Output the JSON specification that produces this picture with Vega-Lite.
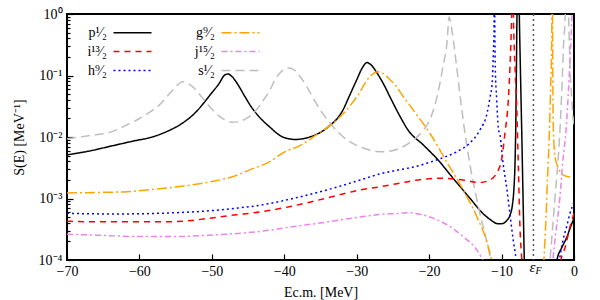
{
  "$schema": "https://vega.github.io/schema/vega-lite/v6.json",
  "width": 507,
  "height": 246,
  "autosize": "none",
  "padding": {"left": 67, "top": 14, "right": 26, "bottom": 40},
  "config": {
    "font": "Liberation Serif",
    "view": {"stroke": "black", "strokeWidth": 2},
    "axis": {"domain": false, "grid": false, "labelFont": "Liberation Serif", "titleFont": "Liberation Serif", "labelFontSize": 14, "titleFontSize": 14, "titleFontWeight": "normal", "labelColor": "black", "titleColor": "black", "tickColor": "black", "tickWidth": 1.2},
    "legend": {"labelFont": "Liberation Serif", "labelFontSize": 14, "labelColor": "black"}
  },
  "resolve": {"axis": {"x": "independent", "y": "independent"}},
  "layer": [
    {
      "data": {"values": [
        {"w":"p","s":"p1","x":-70,"y":0.00513},{"w":"p","s":"p1","x":-67,"y":0.00589},{"w":"p","s":"p1","x":-64,"y":0.00708},{"w":"p","s":"p1","x":-61,"y":0.00851},{"w":"p","s":"p1","x":-58,"y":0.0102},{"w":"p","s":"p1","x":-56,"y":0.0126},{"w":"p","s":"p1","x":-54,"y":0.017},{"w":"p","s":"p1","x":-52,"y":0.0269},{"w":"p","s":"p1","x":-51,"y":0.0372},{"w":"p","s":"p1","x":-50,"y":0.0525},{"w":"p","s":"p1","x":-49,"y":0.0741},{"w":"p","s":"p1","x":-48.3,"y":0.1},{"w":"p","s":"p1","x":-47.8,"y":0.106},{"w":"p","s":"p1","x":-47.2,"y":0.0955},{"w":"p","s":"p1","x":-46.5,"y":0.0741},{"w":"p","s":"p1","x":-45.5,"y":0.0468},{"w":"p","s":"p1","x":-44.5,"y":0.0302},{"w":"p","s":"p1","x":-43.4,"y":0.0209},{"w":"p","s":"p1","x":-42,"y":0.0145},{"w":"p","s":"p1","x":-40.2,"y":0.01},{"w":"p","s":"p1","x":-38.5,"y":0.00912},{"w":"p","s":"p1","x":-36.5,"y":0.01},{"w":"p","s":"p1","x":-34.1,"y":0.0141},{"w":"p","s":"p1","x":-31.9,"y":0.0275},{"w":"p","s":"p1","x":-31,"y":0.0468},{"w":"p","s":"p1","x":-30,"y":0.0851},{"w":"p","s":"p1","x":-29.2,"y":0.135},{"w":"p","s":"p1","x":-28.6,"y":0.162},{"w":"p","s":"p1","x":-28,"y":0.148},{"w":"p","s":"p1","x":-27.2,"y":0.11},{"w":"p","s":"p1","x":-26.2,"y":0.0692},{"w":"p","s":"p1","x":-25.4,"y":0.0447},{"w":"p","s":"p1","x":-24,"y":0.0214},{"w":"p","s":"p1","x":-22.9,"y":0.0129},{"w":"p","s":"p1","x":-20.8,"y":0.00741},{"w":"p","s":"p1","x":-18.8,"y":0.00427},{"w":"p","s":"p1","x":-16.7,"y":0.00214},{"w":"p","s":"p1","x":-14.4,"y":0.00102},{"w":"p","s":"p1","x":-12.6,"y":0.000575},{"w":"p","s":"p1","x":-11.6,"y":0.000457},{"w":"p","s":"p1","x":-10.5,"y":0.000389},{"w":"p","s":"p1","x":-10,"y":0.000389},{"w":"p","s":"p1","x":-9.3,"y":0.000437},{"w":"p","s":"p1","x":-8.8,"y":0.00055},{"w":"p","s":"p1","x":-8.5,"y":0.000794},{"w":"p","s":"p1","x":-8.3,"y":0.00141},{"w":"p","s":"p1","x":-8.15,"y":0.00355},{"w":"p","s":"p1","x":-8.05,"y":0.0126},{"w":"p","s":"p1","x":-7.95,"y":0.126},{"w":"p","s":"p1","x":-7.87,"y":1},{"w":"p","s":"p1","x":-7.8,"y":2.5},{"w":"p","s":"p1","x":-7.6,"y":2.5},{"w":"p","s":"p1","x":-7.55,"y":1},{"w":"p","s":"p1","x":-7.4,"y":0.126},{"w":"p","s":"p1","x":-7.2,"y":0.01},{"w":"p","s":"p1","x":-7,"y":0.00063},{"w":"p","s":"p1","x":-6.86,"y":0.0001},{"w":"p","s":"p1","x":-6.75,"y":0.0000316},
        {"w":"p","s":"p2","x":-2.6,"y":0.000063},{"w":"p","s":"p2","x":-2.35,"y":0.0001},{"w":"p","s":"p2","x":-1.7,"y":0.000158},{"w":"p","s":"p2","x":-1,"y":0.000234},{"w":"p","s":"p2","x":-0.5,"y":0.000339},{"w":"p","s":"p2","x":0,"y":0.000479},
        {"w":"s","s":"s1","x":-70,"y":0.00933},{"w":"s","s":"s1","x":-67,"y":0.0105},{"w":"s","s":"s1","x":-64,"y":0.012},{"w":"s","s":"s1","x":-61.7,"y":0.0158},{"w":"s","s":"s1","x":-60,"y":0.02},{"w":"s","s":"s1","x":-58.5,"y":0.0257},{"w":"s","s":"s1","x":-57,"y":0.0355},{"w":"s","s":"s1","x":-55.8,"y":0.0513},{"w":"s","s":"s1","x":-54.8,"y":0.0692},{"w":"s","s":"s1","x":-54.1,"y":0.0794},{"w":"s","s":"s1","x":-53.3,"y":0.0741},{"w":"s","s":"s1","x":-52.6,"y":0.0646},{"w":"s","s":"s1","x":-51.6,"y":0.0479},{"w":"s","s":"s1","x":-50.7,"y":0.0355},{"w":"s","s":"s1","x":-49.8,"y":0.0269},{"w":"s","s":"s1","x":-48.9,"y":0.0214},{"w":"s","s":"s1","x":-47.2,"y":0.0174},{"w":"s","s":"s1","x":-46,"y":0.0182},{"w":"s","s":"s1","x":-45.1,"y":0.0204},{"w":"s","s":"s1","x":-44,"y":0.0263},{"w":"s","s":"s1","x":-43,"y":0.038},{"w":"s","s":"s1","x":-42,"y":0.0575},{"w":"s","s":"s1","x":-41.2,"y":0.0891},{"w":"s","s":"s1","x":-40.6,"y":0.11},{"w":"s","s":"s1","x":-39.3,"y":0.132},{"w":"s","s":"s1","x":-38.5,"y":0.12},{"w":"s","s":"s1","x":-37.8,"y":0.0955},{"w":"s","s":"s1","x":-36.8,"y":0.0631},{"w":"s","s":"s1","x":-36,"y":0.0427},{"w":"s","s":"s1","x":-34.8,"y":0.0251},{"w":"s","s":"s1","x":-33.7,"y":0.017},{"w":"s","s":"s1","x":-32.5,"y":0.0117},{"w":"s","s":"s1","x":-31.3,"y":0.00891},{"w":"s","s":"s1","x":-29.1,"y":0.00661},{"w":"s","s":"s1","x":-26.4,"y":0.00575},{"w":"s","s":"s1","x":-24,"y":0.00661},{"w":"s","s":"s1","x":-22.2,"y":0.00891},{"w":"s","s":"s1","x":-20.8,"y":0.0129},{"w":"s","s":"s1","x":-19.9,"y":0.0191},{"w":"s","s":"s1","x":-18.8,"y":0.0513},{"w":"s","s":"s1","x":-18.1,"y":0.138},{"w":"s","s":"s1","x":-17.5,"y":0.38},{"w":"s","s":"s1","x":-17.25,"y":0.891},{"w":"s","s":"s1","x":-16.8,"y":0.49},{"w":"s","s":"s1","x":-16.2,"y":0.138},{"w":"s","s":"s1","x":-15.6,"y":0.0355},{"w":"s","s":"s1","x":-15,"y":0.0105},{"w":"s","s":"s1","x":-14.4,"y":0.00372},{"w":"s","s":"s1","x":-13.7,"y":0.00141},{"w":"s","s":"s1","x":-13,"y":0.000575},{"w":"s","s":"s1","x":-12,"y":0.000191},{"w":"s","s":"s1","x":-11.4,"y":0.0000891},
        {"w":"s","s":"s2","x":-3.4,"y":0.000063},{"w":"s","s":"s2","x":-3.3,"y":0.0001},{"w":"s","s":"s2","x":-3.08,"y":0.000214},{"w":"s","s":"s2","x":-2.62,"y":0.00105},{"w":"s","s":"s2","x":-1.94,"y":0.0129},{"w":"s","s":"s2","x":-1.7,"y":0.0513},{"w":"s","s":"s2","x":-1.45,"y":0.288},{"w":"s","s":"s2","x":-1.2,"y":1},{"w":"s","s":"s2","x":-1.1,"y":2.5},
        {"w":"s","s":"s3","x":-0.85,"y":2.5},{"w":"s","s":"s3","x":-0.75,"y":1},{"w":"s","s":"s3","x":-0.55,"y":0.138},{"w":"s","s":"s3","x":-0.3,"y":0.0398},{"w":"s","s":"s3","x":-0.1,"y":0.0191},{"w":"s","s":"s3","x":0,"y":0.0158},
        {"w":"g","s":"g1","x":-70,"y":0.00123},{"w":"g","s":"g1","x":-65,"y":0.00126},{"w":"g","s":"g1","x":-61.7,"y":0.00129},{"w":"g","s":"g1","x":-58,"y":0.00141},{"w":"g","s":"g1","x":-54.8,"y":0.00155},{"w":"g","s":"g1","x":-50.3,"y":0.00186},{"w":"g","s":"g1","x":-47,"y":0.00229},{"w":"g","s":"g1","x":-44.7,"y":0.00295},{"w":"g","s":"g1","x":-42,"y":0.00398},{"w":"g","s":"g1","x":-40.2,"y":0.0055},{"w":"g","s":"g1","x":-37.5,"y":0.00759},{"w":"g","s":"g1","x":-35.5,"y":0.011},{"w":"g","s":"g1","x":-32.7,"y":0.0191},{"w":"g","s":"g1","x":-30,"y":0.0447},{"w":"g","s":"g1","x":-28.2,"y":0.0955},{"w":"g","s":"g1","x":-27.1,"y":0.115},{"w":"g","s":"g1","x":-26.3,"y":0.107},{"w":"g","s":"g1","x":-25.4,"y":0.0851},{"w":"g","s":"g1","x":-24.5,"y":0.0661},{"w":"g","s":"g1","x":-24,"y":0.0537},{"w":"g","s":"g1","x":-22.2,"y":0.0275},{"w":"g","s":"g1","x":-19.9,"y":0.0115},{"w":"g","s":"g1","x":-17.5,"y":0.0038},{"w":"g","s":"g1","x":-15.3,"y":0.00138},{"w":"g","s":"g1","x":-13.4,"y":0.000501},{"w":"g","s":"g1","x":-12,"y":0.000191},{"w":"g","s":"g1","x":-11.4,"y":0.0001},{"w":"g","s":"g1","x":-11,"y":0.0000501},
        {"w":"g","s":"g2","x":-4.3,"y":0.0000398},{"w":"g","s":"g2","x":-4.15,"y":0.0001},{"w":"g","s":"g2","x":-3.9,"y":0.000398},{"w":"g","s":"g2","x":-3.65,"y":0.00224},{"w":"g","s":"g2","x":-3.4,"y":0.0117},{"w":"g","s":"g2","x":-3.25,"y":0.0525},{"w":"g","s":"g2","x":-3.1,"y":0.257},{"w":"g","s":"g2","x":-3.02,"y":1.58},
        {"w":"g","s":"g3","x":-2.97,"y":2.0},{"w":"g","s":"g3","x":-2.94,"y":0.316},{"w":"g","s":"g3","x":-2.9,"y":0.0316},{"w":"g","s":"g3","x":-2.86,"y":0.0145},{"w":"g","s":"g3","x":-2.62,"y":0.00468},{"w":"g","s":"g3","x":-2.17,"y":0.00316},{"w":"g","s":"g3","x":-1.48,"y":0.0024},{"w":"g","s":"g3","x":-0.55,"y":0.00224},
        {"w":"h","s":"h1","x":-70,"y":0.000575},{"w":"h","s":"h1","x":-65,"y":0.000562},{"w":"h","s":"h1","x":-61.7,"y":0.000562},{"w":"h","s":"h1","x":-57.2,"y":0.000575},{"w":"h","s":"h1","x":-53,"y":0.000603},{"w":"h","s":"h1","x":-50.3,"y":0.000631},{"w":"h","s":"h1","x":-46.8,"y":0.000692},{"w":"h","s":"h1","x":-43.4,"y":0.000776},{"w":"h","s":"h1","x":-38.8,"y":0.001},{"w":"h","s":"h1","x":-34.1,"y":0.00138},{"w":"h","s":"h1","x":-29.5,"y":0.002},{"w":"h","s":"h1","x":-26.8,"y":0.00251},{"w":"h","s":"h1","x":-24,"y":0.00295},{"w":"h","s":"h1","x":-22.2,"y":0.00324},{"w":"h","s":"h1","x":-18.9,"y":0.00427},{"w":"h","s":"h1","x":-16.2,"y":0.00575},{"w":"h","s":"h1","x":-14.4,"y":0.00794},{"w":"h","s":"h1","x":-13,"y":0.0129},{"w":"h","s":"h1","x":-12,"y":0.0245},{"w":"h","s":"h1","x":-11.6,"y":0.0437},{"w":"h","s":"h1","x":-11.3,"y":0.0759},{"w":"h","s":"h1","x":-11.12,"y":0.251},{"w":"h","s":"h1","x":-11.05,"y":0.49},{"w":"h","s":"h1","x":-11,"y":2.0},
        {"w":"h","s":"h2","x":-10.96,"y":2.0},{"w":"h","s":"h2","x":-10.87,"y":0.138},{"w":"h","s":"h2","x":-10.67,"y":0.0398},{"w":"h","s":"h2","x":-10.45,"y":0.0141},{"w":"h","s":"h2","x":-10.2,"y":0.0105},{"w":"h","s":"h2","x":-9.8,"y":0.0038},{"w":"h","s":"h2","x":-9.25,"y":0.00138},{"w":"h","s":"h2","x":-8.8,"y":0.000501},{"w":"h","s":"h2","x":-8.4,"y":0.000214},{"w":"h","s":"h2","x":-8,"y":0.0001},{"w":"h","s":"h2","x":-7.8,"y":0.0000501},
        {"w":"h","s":"h3","x":-2.2,"y":0.000063},{"w":"h","s":"h3","x":-2,"y":0.0001},{"w":"h","s":"h3","x":-1.5,"y":0.000214},{"w":"h","s":"h3","x":-1,"y":0.000355},{"w":"h","s":"h3","x":-0.55,"y":0.000575},{"w":"h","s":"h3","x":0,"y":0.000871},
        {"w":"i","s":"i1","x":-70,"y":0.000427},{"w":"i","s":"i1","x":-65,"y":0.000417},{"w":"i","s":"i1","x":-57.2,"y":0.000417},{"w":"i","s":"i1","x":-53,"y":0.000437},{"w":"i","s":"i1","x":-50.3,"y":0.000479},{"w":"i","s":"i1","x":-47,"y":0.000537},{"w":"i","s":"i1","x":-43.4,"y":0.000603},{"w":"i","s":"i1","x":-40,"y":0.000708},{"w":"i","s":"i1","x":-36.5,"y":0.000871},{"w":"i","s":"i1","x":-33,"y":0.0011},{"w":"i","s":"i1","x":-29.5,"y":0.00138},{"w":"i","s":"i1","x":-26.8,"y":0.00155},{"w":"i","s":"i1","x":-24,"y":0.00178},{"w":"i","s":"i1","x":-22.2,"y":0.00195},{"w":"i","s":"i1","x":-18.5,"y":0.00214},{"w":"i","s":"i1","x":-15.3,"y":0.002},{"w":"i","s":"i1","x":-13,"y":0.00182},{"w":"i","s":"i1","x":-11.6,"y":0.002},{"w":"i","s":"i1","x":-10.7,"y":0.00257},{"w":"i","s":"i1","x":-10,"y":0.00427},{"w":"i","s":"i1","x":-9.53,"y":0.0117},{"w":"i","s":"i1","x":-9.07,"y":0.0398},{"w":"i","s":"i1","x":-8.84,"y":0.138},{"w":"i","s":"i1","x":-8.6,"y":0.955},{"w":"i","s":"i1","x":-8.52,"y":2.5},
        {"w":"i","s":"i2","x":-8.45,"y":2.5},{"w":"i","s":"i2","x":-8.38,"y":1},{"w":"i","s":"i2","x":-8.1,"y":0.1},{"w":"i","s":"i2","x":-7.91,"y":0.0316},{"w":"i","s":"i2","x":-7.68,"y":0.00316},{"w":"i","s":"i2","x":-7.45,"y":0.000316},{"w":"i","s":"i2","x":-7.2,"y":0.0001},{"w":"i","s":"i2","x":-7,"y":0.0000398},
        {"w":"i","s":"i3","x":-1.95,"y":0.000063},{"w":"i","s":"i3","x":-1.8,"y":0.0001},{"w":"i","s":"i3","x":-1.24,"y":0.000158},{"w":"i","s":"i3","x":-0.55,"y":0.000347},{"w":"i","s":"i3","x":0,"y":0.000575},
        {"w":"j","s":"j1","x":-70,"y":0.000263},{"w":"j","s":"j1","x":-65,"y":0.000251},{"w":"j","s":"j1","x":-60,"y":0.00024},{"w":"j","s":"j1","x":-55,"y":0.00024},{"w":"j","s":"j1","x":-51,"y":0.000251},{"w":"j","s":"j1","x":-47.9,"y":0.000263},{"w":"j","s":"j1","x":-43,"y":0.000295},{"w":"j","s":"j1","x":-38.8,"y":0.000347},{"w":"j","s":"j1","x":-34,"y":0.000417},{"w":"j","s":"j1","x":-29.5,"y":0.000501},{"w":"j","s":"j1","x":-26.8,"y":0.00055},{"w":"j","s":"j1","x":-24,"y":0.000575},{"w":"j","s":"j1","x":-23,"y":0.000589},{"w":"j","s":"j1","x":-21.5,"y":0.000562},{"w":"j","s":"j1","x":-19.9,"y":0.000501},{"w":"j","s":"j1","x":-17.5,"y":0.000372},{"w":"j","s":"j1","x":-15.3,"y":0.00024},{"w":"j","s":"j1","x":-13.4,"y":0.000145},{"w":"j","s":"j1","x":-12.6,"y":0.0001},{"w":"j","s":"j1","x":-12,"y":0.0000708},
        {"w":"j","s":"j2","x":-3,"y":0.000063},{"w":"j","s":"j2","x":-2.9,"y":0.0001},{"w":"j","s":"j2","x":-2.62,"y":0.000214},{"w":"j","s":"j2","x":-1.94,"y":0.00105},{"w":"j","s":"j2","x":-1.52,"y":0.00427},{"w":"j","s":"j2","x":-1.1,"y":0.0129},{"w":"j","s":"j2","x":-0.69,"y":0.0851},{"w":"j","s":"j2","x":-0.28,"y":1},{"w":"j","s":"j2","x":-0.2,"y":2.0}
      ]},
      "mark": {"type": "line", "clip": true, "strokeWidth": 1.5, "interpolate": "monotone"},
      "encoding": {
        "x": {"field": "x", "type": "quantitative", "scale": {"domain": [-70, 0], "nice": false, "zero": false},
          "axis": {"orient": "bottom", "values": [-70,-60,-50,-40,-30,-20,-10,0], "tickSize": -6, "labelFlush": false, "labelPadding": 10, "title": "Ec.m. [MeV]", "titlePadding": 7}},
        "y": {"field": "y", "type": "quantitative", "scale": {"type": "log", "domain": [0.0001, 1]},
          "axis": {"orient": "left", "values": [0.0001,0.0002,0.0003,0.0004,0.0005,0.0006,0.0007,0.0008,0.0009,0.001,0.002,0.003,0.004,0.005,0.006,0.007,0.008,0.009,0.01,0.02,0.03,0.04,0.05,0.06,0.07,0.08,0.09,0.1,0.2,0.3,0.4,0.5,0.6,0.7,0.8,0.9,1],
            "labelExpr": "datum.value==1?'10⁰':datum.value==0.1?'10⁻¹':datum.value==0.01?'10⁻²':datum.value==0.001?'10⁻³':datum.value==0.0001?'10⁻⁴':''",
            "tickSize": {"condition": {"test": "indexof([1,0.1,0.01,0.001,0.0001], datum.value) >= 0", "value": -6}, "value": -3},
            "labelOverlap": false, "labelPadding": 11, "title": "S(E) [MeV⁻¹]", "titlePadding": 12}},
        "color": {"field": "w", "type": "nominal",
          "scale": {"domain": ["p","i","h","g","j","s"], "range": ["#000000","#ff0000","#0000ff","#ffa500","#ee82ee","#bebebe"]},
          "legend": {"orient": "none", "direction": "vertical", "legendX": 55, "legendY": 8, "columns": 2, "title": null, "symbolType": "M-2,0H2", "symbolSize": 361, "symbolStrokeWidth": 1.5, "labelAlign": "right", "labelOffset": -36, "columnPadding": 39, "rowPadding": 1,
            "labelExpr": "datum.label=='p'?'p¹⁄₂':datum.label=='g'?'g⁹⁄₂':datum.label=='s'?'s¹⁄₂':datum.label=='i'?'i¹³⁄₂':datum.label=='j'?'j¹⁵⁄₂':'h⁹⁄₂'"}},
        "strokeDash": {"field": "w", "type": "nominal",
          "scale": {"domain": ["p","i","h","g","j","s"], "range": [[1,0],[6,5],[2,3],[10,3,2,3],[6,3,2,3],[9,5]]},
          "legend": {"orient": "none", "direction": "vertical", "legendX": 55, "legendY": 8, "columns": 2, "title": null, "symbolType": "M-2,0H2", "symbolSize": 361, "symbolStrokeWidth": 1.5, "labelAlign": "right", "labelOffset": -36, "columnPadding": 39, "rowPadding": 1,
            "labelExpr": "datum.label=='p'?'p¹⁄₂':datum.label=='g'?'g⁹⁄₂':datum.label=='s'?'s¹⁄₂':datum.label=='i'?'i¹³⁄₂':datum.label=='j'?'j¹⁵⁄₂':'h⁹⁄₂'"}},
        "detail": {"field": "s", "type": "nominal"}
      }
    },
    {
      "data": {"values": [{"e": -5.6, "lab": "ε", "sub": "F"}]},
      "layer": [
        {
          "mark": {"type": "rule", "strokeDash": [2, 3], "color": "#555555", "strokeWidth": 1.5},
          "encoding": {
            "x": {"field": "e", "type": "quantitative", "scale": {"domain": [-70, 0], "nice": false, "zero": false},
              "axis": {"orient": "top", "values": [-70,-60,-50,-40,-30,-20,-10,0], "labels": false, "tickSize": -6, "title": null}}
          }
        },
        {
          "mark": {"type": "text", "fontStyle": "italic", "fontSize": 15, "align": "right", "baseline": "middle", "dx": 2, "dy": 7, "color": "black"},
          "encoding": {
            "x": {"field": "e", "type": "quantitative", "scale": {"domain": [-70, 0], "nice": false, "zero": false}, "axis": null},
            "y": {"datum": 0.0001, "type": "quantitative", "scale": {"type": "log", "domain": [0.0001, 1]},
              "axis": {"orient": "right", "values": [0.0001,0.0002,0.0003,0.0004,0.0005,0.0006,0.0007,0.0008,0.0009,0.001,0.002,0.003,0.004,0.005,0.006,0.007,0.008,0.009,0.01,0.02,0.03,0.04,0.05,0.06,0.07,0.08,0.09,0.1,0.2,0.3,0.4,0.5,0.6,0.7,0.8,0.9,1],
                "labels": false, "title": null,
                "tickSize": {"condition": {"test": "indexof([1,0.1,0.01,0.001,0.0001], datum.value) >= 0", "value": -6}, "value": -3}}},
            "text": {"field": "lab", "type": "nominal"}
          }
        },
        {
          "mark": {"type": "text", "fontStyle": "italic", "fontSize": 10, "align": "left", "baseline": "middle", "dx": 2, "dy": 11, "color": "black"},
          "encoding": {
            "x": {"field": "e", "type": "quantitative", "scale": {"domain": [-70, 0], "nice": false, "zero": false}, "axis": null},
            "y": {"datum": 0.0001, "type": "quantitative", "scale": {"type": "log", "domain": [0.0001, 1]}, "axis": null},
            "text": {"field": "sub", "type": "nominal"}
          }
        }
      ]
    }
  ]
}
